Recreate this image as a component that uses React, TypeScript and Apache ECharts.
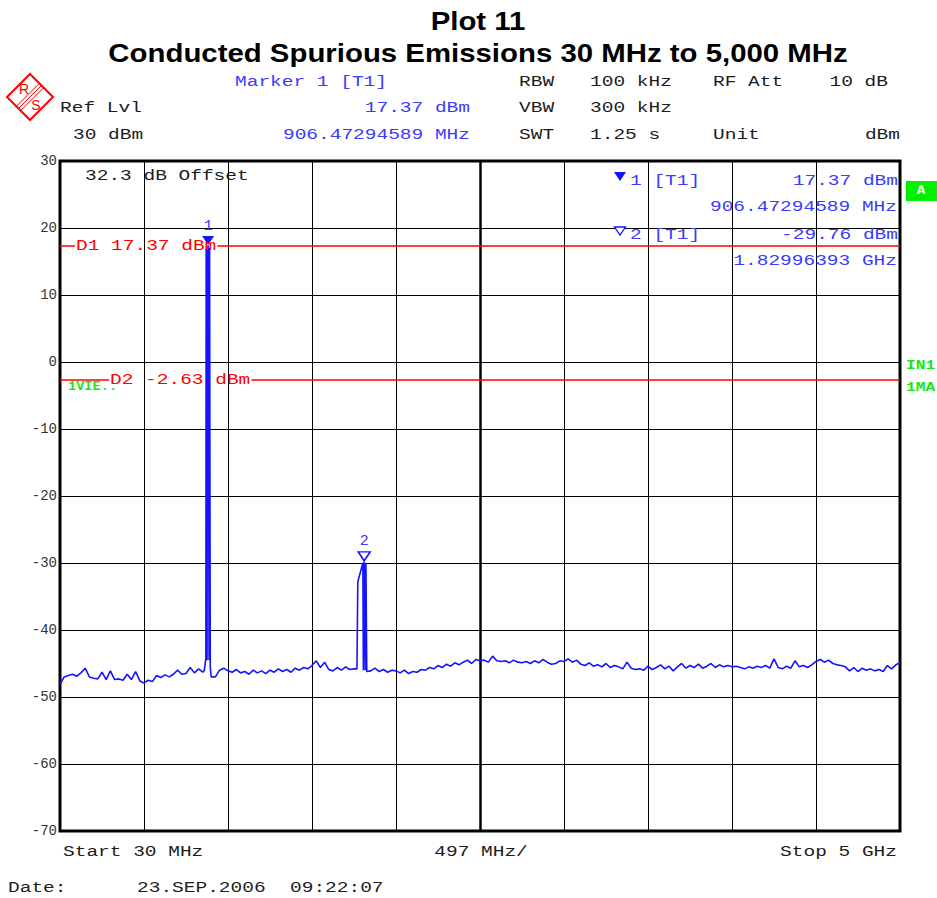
import React, { useEffect, useRef } from "react";
import * as echarts from "echarts";

// ---------- data ----------
const START_MHZ = 30;
const STOP_MHZ = 5000;
const MHZ_PER_DIV = 497;
const SWEEP_STEP_MHZ = 24.85;
const Y_MIN = -70;
const Y_MAX = 30;
const Y_STEP = 10;

// noise floor of the sweep, one value per sweep point (201 points)
const NOISE_DBM = [
  -48.1, -47.0, -46.8, -46.6, -46.9, -46.4, -45.7, -47.0, -47.2, -47.3,
  -46.3, -47.4, -46.1, -47.4, -47.3, -47.5, -46.6, -47.4, -46.2, -47.6,
  -47.9, -47.5, -47.7, -46.8, -47.1, -46.7, -47.0, -46.6, -46.0, -46.6,
  -46.5, -45.6, -46.4, -45.8, -46.3, -46.0, -47.0, -47.0, -46.0, -45.7,
  -46.1, -46.3, -45.9, -46.4, -46.2, -46.6, -46.0, -46.4, -46.1, -46.5,
  -46.0, -46.3, -45.8, -46.2, -45.9, -46.3, -45.7, -46.0, -45.6, -45.8,
  -45.3, -44.6, -45.6, -44.8, -45.9, -46.1, -45.6, -46.0, -45.5, -45.9,
  -45.8, -45.9, -45.9, -46.0, -46.1, -45.7, -46.2, -45.9, -46.3, -46.0,
  -46.1, -46.4, -46.0, -46.5, -46.2, -46.3, -45.9, -46.0, -45.6, -45.8,
  -45.3, -45.6, -45.1, -45.4, -44.9, -45.2, -44.8, -44.5, -45.0, -44.4,
  -44.6, -44.5, -44.8, -43.9, -44.6, -44.7, -44.6, -44.9, -44.5, -44.8,
  -44.9, -44.7, -45.0, -44.6, -44.9, -44.4, -44.8, -45.1, -45.0, -44.6,
  -44.7, -44.3, -44.8, -44.5, -45.1, -45.3, -44.9, -45.4, -45.2, -45.5,
  -45.0, -45.6, -45.3, -45.5, -45.8, -44.8, -45.7, -45.9, -45.8, -46.0,
  -45.4, -45.9, -45.6, -45.2, -45.8, -45.4, -46.1, -45.5, -45.0, -45.7,
  -45.3, -45.6, -45.1, -45.7, -45.4, -45.0, -45.6, -45.2, -45.5, -45.3,
  -45.5, -45.4, -45.6, -45.8, -45.5, -45.7, -45.4, -45.6, -45.3, -45.7,
  -44.3, -45.6, -45.8, -45.4, -45.7, -44.6, -45.5, -45.3, -45.6, -45.2,
  -44.7, -44.4, -44.8, -44.5, -45.0, -45.2, -45.3, -45.5, -46.1, -45.6,
  -46.2, -45.7, -46.0, -45.8, -46.1, -45.9, -46.2, -45.3, -45.8, -45.2,
  -44.9,
];

// carrier at ~906 MHz  [MHz, dBm]
const PEAK1: [number, number][] = [
  [884, -46.0], [893, -44.2], [895, 16.9], [900, -44.5], [903, 17.2],
  [906.47294589, 17.37], [912, -44.5], [915, 17.0], [919, -45.5],
];
// harmonic at ~1830 MHz  [MHz, dBm]
const PEAK2: [number, number][] = [
  [1787, -45.8], [1792, -32.8], [1822, -30.0], [1825, -46.0],
  [1829.96393, -29.76], [1836, -46.0], [1840, -30.1], [1845, -46.2],
];
const PEAK_WINDOWS: [number, number][] = [[880, 921], [1785, 1847]];

const MARKERS = [
  { label: "1", freq: 906.47294589, dbm: 17.37, filled: true },
  { label: "2", freq: 1829.96393, dbm: -29.76, filled: false },
];

const DISPLAY_LINES = [
  { text: "D1 17.37 dBm", dbm: 17.37 },
  { text: "D2 -2.63 dBm", dbm: -2.63 },
];

// ---------- styles ----------
const MONO = '"Liberation Mono", "DejaVu Sans Mono", monospace';
const SANS = '"Liberation Sans", Arial, sans-serif';
const BLUE_TXT = "#3a3aff";
const TRACE = "#1414ff";
const RED = "#ff0000";
const GREEN = "#19e619";
const INK = "#1c1c1c";
const PITCH = 11.7; // character pitch of the instrument font, px
const FS = 15;
const SX = PITCH / (FS * 0.6);

const GRID = { left: 60, top: 161, width: 840, height: 670 };

function txt(
  x: number,
  y: number,
  s: string,
  fill: string,
  align: "left" | "right" | "center" = "left",
  size = FS,
  sx = SX,
  weight = "normal",
  family = MONO
): any {
  return {
    type: "text",
    x,
    y,
    scaleX: sx,
    z: 20,
    silent: true,
    style: {
      text: s,
      fill,
      font: `${weight} ${size}px ${family}`,
      textAlign: align,
      align,
      textVerticalAlign: "middle",
      verticalAlign: "middle",
    },
  };
}

export default function App() {
  const ref = useRef<HTMLDivElement>(null);

  useEffect(() => {
    const chart = echarts.init(ref.current!, null, { renderer: "svg" });

    const noisePts: [number, number][] = NOISE_DBM.map(
      (v, i) => [START_MHZ + i * SWEEP_STEP_MHZ, v] as [number, number]
    ).filter(([f]) => !PEAK_WINDOWS.some(([a, b]) => f >= a && f <= b));
    const trace = [...noisePts, ...PEAK1, ...PEAK2].sort((a, b) => a[0] - b[0]);

    const centerMHz = START_MHZ + 5 * MHZ_PER_DIV;

    const baseOption: any = {
      animation: false,
      backgroundColor: "#ffffff",
      grid: {
        ...GRID,
        show: true,
        borderColor: "#000",
        borderWidth: 3,
        backgroundColor: "transparent",
        containLabel: false,
      },
      xAxis: [
        { type: "value", min: START_MHZ, max: STOP_MHZ, show: false },
        {
          type: "value",
          min: 0,
          max: 10,
          interval: 1,
          position: "bottom",
          axisLine: { show: false },
          axisTick: { show: false },
          axisLabel: { show: false },
          splitLine: { show: true, lineStyle: { color: "#000", width: 1 } },
        },
      ],
      yAxis: {
        type: "value",
        min: Y_MIN,
        max: Y_MAX,
        interval: Y_STEP,
        axisLine: { show: false },
        axisTick: { show: false },
        axisLabel: {
          color: "#333",
          fontFamily: MONO,
          fontSize: 14,
          margin: 3,
        },
        splitLine: { show: true, lineStyle: { color: "#000", width: 1 } },
      },
      series: [
        {
          type: "line",
          name: "helper",
          xAxisIndex: 0,
          yAxisIndex: 0,
          data: [],
          z: 2,
          silent: true,
          color: RED,
        },
        {
          type: "line",
          name: "trace",
          xAxisIndex: 0,
          yAxisIndex: 0,
          data: trace,
          showSymbol: false,
          symbol: "none",
          z: 5,
          lineStyle: { color: TRACE, width: 1.6 },
          markPoint: {
            silent: true,
            data: MARKERS.map((m) => ({
              coord: [m.freq, m.dbm],
              symbol: "triangle",
              symbolRotate: 180,
              symbolSize: [12, 9],
              symbolOffset: [0, -5],
              itemStyle: {
                color: m.filled ? TRACE : "#ffffff",
                borderColor: TRACE,
                borderWidth: m.filled ? 0 : 1.5,
              },
              label: {
                show: true,
                formatter: m.label,
                position: "top",
                distance: 2,
                color: BLUE_TXT,
                fontFamily: MONO,
                fontSize: 15,
              },
            })),
          },
        },
        {
          type: "line",
          name: "center",
          xAxisIndex: 0,
          yAxisIndex: 0,
          data: [],
          z: 1,
          silent: true,
          markLine: {
            silent: true,
            symbol: "none",
            label: { show: false },
            lineStyle: { color: "#000", width: 2.5, type: "solid", opacity: 1 },
            data: [{ xAxis: centerMHz }],
          },
        },
      ],
    };
    chart.setOption(baseOption);

    // display lines: split around their labels
    const labelStarts = [76, 110];
    const dSegments: any[] = [];
    const dLabels: any[] = [];
    DISPLAY_LINES.forEach((d, k) => {
      const y = chart.convertToPixel({ yAxisIndex: 0 }, d.dbm) as number;
      const x0 = labelStarts[k];
      const x1 = x0 + d.text.length * PITCH;
      const f0 = chart.convertFromPixel({ xAxisIndex: 0 }, x0 - 1) as number;
      const f1 = chart.convertFromPixel({ xAxisIndex: 0 }, x1 + 1) as number;
      dSegments.push([{ coord: [START_MHZ, d.dbm] }, { coord: [f0, d.dbm] }]);
      dSegments.push([{ coord: [f1, d.dbm] }, { coord: [STOP_MHZ, d.dbm] }]);
      dLabels.push(txt(x0, y, d.text, RED));
    });

    const logo: any = {
      type: "group",
      z: 20,
      silent: true,
      children: [
        {
          type: "polygon",
          shape: { points: [[30, 74], [53, 97], [30, 120], [7, 97]] },
          style: { fill: "none", stroke: "#ff0000", lineWidth: 2 },
        },
        ...[-2.2, 0, 2.2].map((o) => ({
          type: "line",
          shape: { x1: 18.5 + o, y1: 108.5 + o, x2: 41.5 + o, y2: 85.5 + o },
          style: { stroke: "#ff0000", lineWidth: 1 },
        })),
        {
          type: "text",
          x: 24,
          y: 89,
          style: { text: "R", fill: "#ff0000", font: `normal 14px ${SANS}`, align: "center", textAlign: "center", verticalAlign: "middle", textVerticalAlign: "middle" },
        },
        {
          type: "text",
          x: 36,
          y: 105,
          style: { text: "S", fill: "#ff0000", font: `normal 14px ${SANS}`, align: "center", textAlign: "center", verticalAlign: "middle", textVerticalAlign: "middle" },
        },
      ],
    };

    const graphic: any[] = [
      txt(478, 21, "Plot 11", "#000", "center", 26, 1.13, "bold", SANS),
      txt(478, 53, "Conducted Spurious Emissions 30 MHz to 5,000 MHz", "#000", "center", 26, 1.13, "bold", SANS),
      logo,
      // header
      txt(235, 82, "Marker 1 [T1]", BLUE_TXT),
      txt(519, 82, "RBW", INK),
      txt(590, 82, "100 kHz", INK),
      txt(713, 82, "RF Att", INK),
      txt(888, 82, "10 dB", INK, "right"),
      txt(60, 108, "Ref Lvl", INK),
      txt(470, 108, "17.37 dBm", BLUE_TXT, "right"),
      txt(519, 108, "VBW", INK),
      txt(590, 108, "300 kHz", INK),
      txt(73, 135, "30 dBm", INK),
      txt(470, 135, "906.47294589 MHz", BLUE_TXT, "right"),
      txt(519, 135, "SWT", INK),
      txt(590, 135, "1.25 s", INK),
      txt(713, 135, "Unit", INK),
      txt(900, 135, "dBm", INK, "right"),
      // inside plot
      txt(85, 176, "32.3 dB Offset", INK),
      {
        type: "polygon",
        z: 20,
        silent: true,
        shape: { points: [[614, 172], [626, 172], [620, 181]] },
        style: { fill: TRACE },
      },
      txt(630, 181, "1 [T1]", BLUE_TXT),
      txt(898, 181, "17.37 dBm", BLUE_TXT, "right"),
      txt(897, 207, "906.47294589 MHz", BLUE_TXT, "right"),
      {
        type: "polygon",
        z: 20,
        silent: true,
        shape: { points: [[614.5, 227], [625.5, 227], [620, 235]] },
        style: { fill: "#fff", stroke: TRACE, lineWidth: 1.3 },
      },
      txt(630, 235, "2 [T1]", BLUE_TXT),
      txt(898, 235, "-29.76 dBm", BLUE_TXT, "right"),
      txt(897, 261, "1.82996393 GHz", BLUE_TXT, "right"),
      ...dLabels,
      txt(68, 387, "1VIE..", GREEN, "left", 13, 1.05, "bold"),
      // right side indicators
      {
        type: "rect",
        z: 20,
        silent: true,
        shape: { x: 906, y: 181, width: 31, height: 20 },
        style: { fill: "#00f000" },
      },
      txt(921, 191, "A", "#ffffff", "center", 13, 1.1, "bold"),
      txt(906, 365, "IN1", GREEN, "left", 13, 1.25, "bold"),
      txt(906, 387, "1MA", GREEN, "left", 13, 1.25, "bold"),
      // footer
      txt(63, 852, "Start 30 MHz", INK),
      txt(481, 852, "497 MHz/", INK, "center"),
      txt(897, 852, "Stop 5 GHz", INK, "right"),
      txt(8, 888, "Date:", INK),
      txt(137, 888, "23.SEP.2006", INK),
      txt(290, 888, "09:22:07", INK),
    ];

    chart.setOption({
      series: [
        {
          markLine: {
            silent: true,
            symbol: "none",
            label: { show: false },
            lineStyle: { color: RED, width: 1.5, type: "solid", opacity: 1 },
            data: dSegments,
          },
        },
        {},
        {},
      ],
      graphic,
    });

    return () => chart.dispose();
  }, []);

  return (
    <div
      ref={ref}
      style={{ position: "absolute", left: 0, top: 0, width: 937, height: 898, background: "#fff" }}
    />
  );
}
